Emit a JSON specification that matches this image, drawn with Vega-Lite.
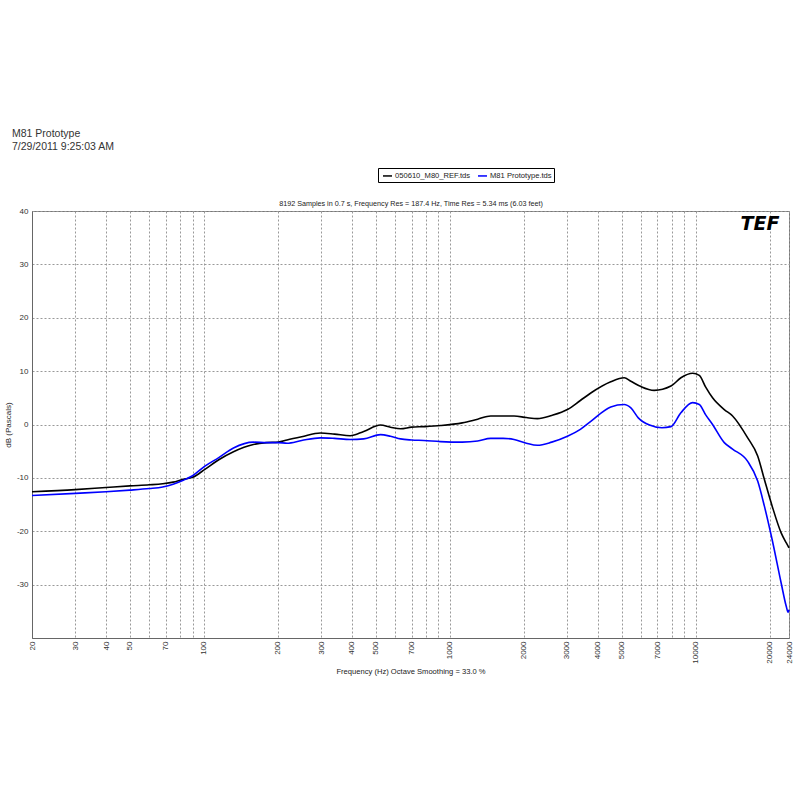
{
  "$schema": "https://vega.github.io/schema/vega-lite/v6.json",
  "width": 757,
  "height": 427,
  "autosize": {"type": "none"},
  "padding": {"left": 32, "top": 211, "right": 11, "bottom": 162},
  "background": "white",
  "config": {
    "font": "Liberation Sans",
    "view": {"stroke": "#777", "strokeWidth": 1},
    "axis": {"labelFont": "Liberation Sans", "titleFont": "Liberation Sans"}
  },
  "title": {
    "text": ["M81 Prototype", "7/29/2011 9:25:03 AM"],
    "anchor": "start",
    "frame": "group",
    "dx": -20,
    "offset": 15,
    "fontSize": 10.5,
    "fontWeight": "normal",
    "color": "#333",
    "lineHeight": 13,
    "font": "Liberation Sans"
  },
  "datasets": {
    "curves": [
      {"freq": 20, "db": -12.6, "series": "050610_M80_REF.tds"},
      {"freq": 30, "db": -12.2, "series": "050610_M80_REF.tds"},
      {"freq": 40, "db": -11.8, "series": "050610_M80_REF.tds"},
      {"freq": 50, "db": -11.5, "series": "050610_M80_REF.tds"},
      {"freq": 60, "db": -11.3, "series": "050610_M80_REF.tds"},
      {"freq": 68, "db": -11.1, "series": "050610_M80_REF.tds"},
      {"freq": 75, "db": -10.8, "series": "050610_M80_REF.tds"},
      {"freq": 82, "db": -10.3, "series": "050610_M80_REF.tds"},
      {"freq": 90, "db": -9.9, "series": "050610_M80_REF.tds"},
      {"freq": 101, "db": -8.4, "series": "050610_M80_REF.tds"},
      {"freq": 115, "db": -6.6, "series": "050610_M80_REF.tds"},
      {"freq": 132, "db": -5.1, "series": "050610_M80_REF.tds"},
      {"freq": 159, "db": -3.75, "series": "050610_M80_REF.tds"},
      {"freq": 180, "db": -3.4, "series": "050610_M80_REF.tds"},
      {"freq": 201, "db": -3.3, "series": "050610_M80_REF.tds"},
      {"freq": 218, "db": -2.9, "series": "050610_M80_REF.tds"},
      {"freq": 250, "db": -2.3, "series": "050610_M80_REF.tds"},
      {"freq": 298, "db": -1.6, "series": "050610_M80_REF.tds"},
      {"freq": 340, "db": -1.8, "series": "050610_M80_REF.tds"},
      {"freq": 394, "db": -2.1, "series": "050610_M80_REF.tds"},
      {"freq": 447, "db": -1.3, "series": "050610_M80_REF.tds"},
      {"freq": 523, "db": -0.1, "series": "050610_M80_REF.tds"},
      {"freq": 574, "db": -0.5, "series": "050610_M80_REF.tds"},
      {"freq": 631, "db": -0.8, "series": "050610_M80_REF.tds"},
      {"freq": 700, "db": -0.5, "series": "050610_M80_REF.tds"},
      {"freq": 785, "db": -0.4, "series": "050610_M80_REF.tds"},
      {"freq": 918, "db": -0.2, "series": "050610_M80_REF.tds"},
      {"freq": 1125, "db": 0.3, "series": "050610_M80_REF.tds"},
      {"freq": 1300, "db": 1.0, "series": "050610_M80_REF.tds"},
      {"freq": 1468, "db": 1.6, "series": "050610_M80_REF.tds"},
      {"freq": 1827, "db": 1.6, "series": "050610_M80_REF.tds"},
      {"freq": 2050, "db": 1.3, "series": "050610_M80_REF.tds"},
      {"freq": 2274, "db": 1.1, "series": "050610_M80_REF.tds"},
      {"freq": 2600, "db": 1.7, "series": "050610_M80_REF.tds"},
      {"freq": 3013, "db": 2.8, "series": "050610_M80_REF.tds"},
      {"freq": 3400, "db": 4.5, "series": "050610_M80_REF.tds"},
      {"freq": 3750, "db": 5.9, "series": "050610_M80_REF.tds"},
      {"freq": 4520, "db": 8.0, "series": "050610_M80_REF.tds"},
      {"freq": 5127, "db": 8.75, "series": "050610_M80_REF.tds"},
      {"freq": 5458, "db": 8.1, "series": "050610_M80_REF.tds"},
      {"freq": 6000, "db": 7.1, "series": "050610_M80_REF.tds"},
      {"freq": 6791, "db": 6.4, "series": "050610_M80_REF.tds"},
      {"freq": 7943, "db": 7.2, "series": "050610_M80_REF.tds"},
      {"freq": 8720, "db": 8.75, "series": "050610_M80_REF.tds"},
      {"freq": 9730, "db": 9.6, "series": "050610_M80_REF.tds"},
      {"freq": 10360, "db": 9.2, "series": "050610_M80_REF.tds"},
      {"freq": 11000, "db": 7.0, "series": "050610_M80_REF.tds"},
      {"freq": 11730, "db": 5.0, "series": "050610_M80_REF.tds"},
      {"freq": 13090, "db": 2.8, "series": "050610_M80_REF.tds"},
      {"freq": 14150, "db": 1.6, "series": "050610_M80_REF.tds"},
      {"freq": 16300, "db": -2.5, "series": "050610_M80_REF.tds"},
      {"freq": 17900, "db": -5.9, "series": "050610_M80_REF.tds"},
      {"freq": 19060, "db": -10.3, "series": "050610_M80_REF.tds"},
      {"freq": 20500, "db": -15.3, "series": "050610_M80_REF.tds"},
      {"freq": 22300, "db": -20.3, "series": "050610_M80_REF.tds"},
      {"freq": 23400, "db": -22.2, "series": "050610_M80_REF.tds"},
      {"freq": 24000, "db": -23.1, "series": "050610_M80_REF.tds"},
      {"freq": 20, "db": -13.3, "series": "M81 Prototype.tds"},
      {"freq": 30, "db": -12.9, "series": "M81 Prototype.tds"},
      {"freq": 40, "db": -12.6, "series": "M81 Prototype.tds"},
      {"freq": 50, "db": -12.3, "series": "M81 Prototype.tds"},
      {"freq": 60, "db": -12.0, "series": "M81 Prototype.tds"},
      {"freq": 68, "db": -11.7, "series": "M81 Prototype.tds"},
      {"freq": 75, "db": -11.2, "series": "M81 Prototype.tds"},
      {"freq": 82, "db": -10.5, "series": "M81 Prototype.tds"},
      {"freq": 90, "db": -9.6, "series": "M81 Prototype.tds"},
      {"freq": 101, "db": -7.8, "series": "M81 Prototype.tds"},
      {"freq": 115, "db": -6.2, "series": "M81 Prototype.tds"},
      {"freq": 132, "db": -4.4, "series": "M81 Prototype.tds"},
      {"freq": 159, "db": -3.3, "series": "M81 Prototype.tds"},
      {"freq": 180, "db": -3.4, "series": "M81 Prototype.tds"},
      {"freq": 201, "db": -3.4, "series": "M81 Prototype.tds"},
      {"freq": 218, "db": -3.5, "series": "M81 Prototype.tds"},
      {"freq": 250, "db": -3.0, "series": "M81 Prototype.tds"},
      {"freq": 298, "db": -2.5, "series": "M81 Prototype.tds"},
      {"freq": 340, "db": -2.6, "series": "M81 Prototype.tds"},
      {"freq": 394, "db": -2.8, "series": "M81 Prototype.tds"},
      {"freq": 447, "db": -2.7, "series": "M81 Prototype.tds"},
      {"freq": 523, "db": -1.9, "series": "M81 Prototype.tds"},
      {"freq": 574, "db": -2.2, "series": "M81 Prototype.tds"},
      {"freq": 631, "db": -2.7, "series": "M81 Prototype.tds"},
      {"freq": 700, "db": -2.9, "series": "M81 Prototype.tds"},
      {"freq": 785, "db": -3.0, "series": "M81 Prototype.tds"},
      {"freq": 918, "db": -3.2, "series": "M81 Prototype.tds"},
      {"freq": 1125, "db": -3.3, "series": "M81 Prototype.tds"},
      {"freq": 1300, "db": -3.1, "series": "M81 Prototype.tds"},
      {"freq": 1468, "db": -2.6, "series": "M81 Prototype.tds"},
      {"freq": 1650, "db": -2.6, "series": "M81 Prototype.tds"},
      {"freq": 1827, "db": -2.8, "series": "M81 Prototype.tds"},
      {"freq": 2050, "db": -3.5, "series": "M81 Prototype.tds"},
      {"freq": 2274, "db": -3.9, "series": "M81 Prototype.tds"},
      {"freq": 2600, "db": -3.3, "series": "M81 Prototype.tds"},
      {"freq": 3013, "db": -2.2, "series": "M81 Prototype.tds"},
      {"freq": 3400, "db": -0.9, "series": "M81 Prototype.tds"},
      {"freq": 3750, "db": 0.6, "series": "M81 Prototype.tds"},
      {"freq": 4520, "db": 3.3, "series": "M81 Prototype.tds"},
      {"freq": 5127, "db": 3.75, "series": "M81 Prototype.tds"},
      {"freq": 5458, "db": 3.1, "series": "M81 Prototype.tds"},
      {"freq": 5850, "db": 1.25, "series": "M81 Prototype.tds"},
      {"freq": 6500, "db": -0.1, "series": "M81 Prototype.tds"},
      {"freq": 7300, "db": -0.6, "series": "M81 Prototype.tds"},
      {"freq": 7943, "db": -0.4, "series": "M81 Prototype.tds"},
      {"freq": 8720, "db": 2.2, "series": "M81 Prototype.tds"},
      {"freq": 9730, "db": 4.1, "series": "M81 Prototype.tds"},
      {"freq": 10360, "db": 3.75, "series": "M81 Prototype.tds"},
      {"freq": 11000, "db": 1.8, "series": "M81 Prototype.tds"},
      {"freq": 11730, "db": 0.0, "series": "M81 Prototype.tds"},
      {"freq": 13090, "db": -3.4, "series": "M81 Prototype.tds"},
      {"freq": 14150, "db": -4.6, "series": "M81 Prototype.tds"},
      {"freq": 16300, "db": -6.9, "series": "M81 Prototype.tds"},
      {"freq": 17900, "db": -10.6, "series": "M81 Prototype.tds"},
      {"freq": 19060, "db": -15.3, "series": "M81 Prototype.tds"},
      {"freq": 20500, "db": -21.6, "series": "M81 Prototype.tds"},
      {"freq": 22300, "db": -29.7, "series": "M81 Prototype.tds"},
      {"freq": 23400, "db": -34.1, "series": "M81 Prototype.tds"},
      {"freq": 23800, "db": -35.2, "series": "M81 Prototype.tds"},
      {"freq": 24000, "db": -34.7, "series": "M81 Prototype.tds"}
    ],
    "logo": [{"label": "TEF"}]
  },
  "resolve": {"axis": {"x": "independent"}},
  "layer": [
    {
      "data": {"name": "curves"},
      "mark": {"type": "line", "interpolate": "monotone", "strokeWidth": 1.6},
      "encoding": {
        "x": {
          "field": "freq",
          "type": "quantitative",
          "scale": {"type": "log", "domain": [20, 24000], "nice": false, "zero": false},
          "axis": {
            "orient": "bottom",
            "values": [20, 30, 40, 50, 60, 70, 80, 90, 100, 200, 300, 400, 500, 600, 700, 800, 900, 1000, 2000, 3000, 4000, 5000, 6000, 7000, 8000, 9000, 10000, 20000, 24000],
            "labelExpr": "(datum.value == 60 || datum.value == 80 || datum.value == 90 || datum.value == 600 || datum.value == 800 || datum.value == 900 || datum.value == 6000 || datum.value == 8000 || datum.value == 9000) ? '' : '' + datum.value",
            "labelAngle": 270,
            "labelFontSize": 8,
            "labelColor": "#333",
            "labelPadding": 3,
            "labelOverlap": false,
            "labelBound": false,
            "labelFlush": false,
            "ticks": false,
            "domainColor": "#666",
            "grid": true,
            "gridDash": [2, 2],
            "gridColor": "#999",
            "gridWidth": 1,
            "title": "Frequency (Hz) Octave Smoothing = 33.0 %",
            "titleFontSize": 7.6,
            "titleFontWeight": "normal",
            "titleColor": "#222",
            "titlePadding": 4
          }
        },
        "y": {
          "field": "db",
          "type": "quantitative",
          "scale": {"domain": [-40, 40], "nice": false, "zero": false},
          "axis": {
            "values": [-40, -30, -20, -10, 0, 10, 20, 30, 40],
            "labelExpr": "datum.value == -40 ? '' : '' + datum.value",
            "labelFontSize": 8,
            "labelColor": "#333",
            "labelPadding": 4,
            "labelFlush": false,
            "ticks": false,
            "domainColor": "#666",
            "grid": true,
            "gridDash": [2, 2],
            "gridColor": "#999",
            "title": "dB (Pascals)",
            "titleFontSize": 8,
            "titleFontWeight": "normal",
            "titleColor": "#222",
            "titlePadding": 4
          }
        },
        "color": {
          "field": "series",
          "type": "nominal",
          "scale": {"domain": ["050610_M80_REF.tds", "M81 Prototype.tds"], "range": ["#000000", "#0000ff"]},
          "legend": {
            "title": null,
            "orient": "none",
            "direction": "horizontal",
            "legendX": 346,
            "legendY": -43,
            "fillColor": "white",
            "strokeColor": "#000",
            "padding": 2,
            "labelFontSize": 7.6,
            "labelColor": "#222",
            "symbolType": "stroke",
            "symbolSize": 81,
            "symbolStrokeWidth": 1.5,
            "symbolOffset": 2,
            "columnPadding": 4,
            "labelOffset": 2
          }
        }
      }
    },
    {
      "data": {"name": "logo"},
      "mark": {"type": "text", "font": "DejaVu Sans", "fontWeight": "bold", "fontStyle": "italic", "fontSize": 19, "align": "center", "baseline": "middle", "color": "#000"},
      "encoding": {
        "x": {
          "datum": 18300,
          "type": "quantitative",
          "axis": {
            "orient": "top",
            "labels": false,
            "ticks": false,
            "domain": false,
            "grid": false,
            "title": "8192 Samples in 0.7 s, Frequency Res = 187.4 Hz, Time Res = 5.34 ms (6.03 feet)",
            "titleFontSize": 7.2,
            "titleFontWeight": "normal",
            "titleColor": "#222",
            "titlePadding": 4
          }
        },
        "y": {"datum": 37.5, "type": "quantitative"},
        "text": {"field": "label"}
      }
    }
  ]
}
